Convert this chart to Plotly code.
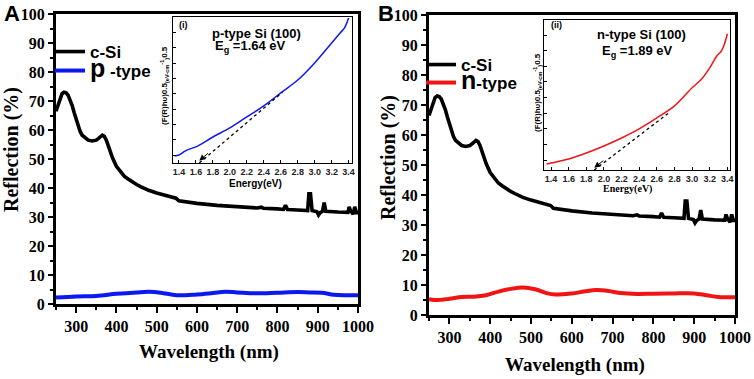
import plotly.graph_objects as go

W, H = 754, 379

# ---------------- data ----------------
wl_csi = [250, 255, 260, 265, 270, 275, 280, 285, 290, 295, 300, 305, 310, 315, 320, 330, 340, 350,
          355, 360, 365, 370, 375, 380, 390, 400, 410, 420, 430, 440, 450, 460, 480, 500, 520, 540,
          548, 555, 570, 600, 650, 700, 750, 760, 765, 800, 815, 820, 825, 850, 875, 878, 882, 886,
          890, 898, 902, 906, 912, 916, 920, 930, 950, 975, 978, 982, 988, 992, 996, 1000]
r_csi = [66.5, 68.5, 71, 72.5, 73, 72.8, 72, 70.5, 68.5, 66, 63.5, 61, 59.5, 58.2, 57.5, 56.5, 56.2, 56.5,
         57, 57.8, 58.2, 57.8, 56.5, 54.5, 50.5, 47.5, 45.5, 44, 43, 42, 41.2, 40.5, 39.2, 38.3, 37.5, 36.8,
         36.5, 35.6, 35.2, 34.7, 34, 33.5, 33.1, 33.4, 33, 32.8, 32.6, 34, 32.6, 32.4, 32.2, 38, 38, 32.2,
         32, 31.8, 30.7, 31.5, 32, 35, 32, 31.8, 31.7, 31.6, 33.5, 32, 31, 33.5, 31.5, 31.5]

wl_p = [250, 300, 350, 400, 450, 480, 510, 550, 600, 640, 670, 700, 750, 800, 850, 880, 910, 940, 970, 1000]
r_p = [2.2, 2.6, 2.8, 3.5, 4.0, 4.2, 3.9, 3.0, 3.3, 3.8, 4.2, 4.0, 3.7, 3.9, 4.1, 4.0, 3.9, 3.2, 3.0, 3.0]

wl_n = [250, 270, 300, 330, 360, 390, 420, 450, 480, 510, 540, 560, 600, 630, 660, 690, 720, 760,
        800, 850, 900, 930, 960, 1000]
r_n = [5.3, 5.0, 5.4, 6.0, 6.1, 6.6, 7.8, 8.7, 9.2, 8.6, 7.2, 6.8, 7.2, 7.8, 8.3, 8.0, 7.3, 7.0,
       7.1, 7.2, 7.2, 6.6, 6.0, 5.9]

# Tauc plots (arbitrary units)
e_p = [1.35, 1.4, 1.45, 1.5, 1.6, 1.8, 2.0, 2.2, 2.4, 2.6, 2.8, 3.0, 3.2, 3.3, 3.35, 3.4]
t_p = [0.46, 0.52, 0.70, 0.86, 1.05, 1.70, 2.29, 3.01, 3.73, 4.58, 5.42, 6.54, 7.84, 8.50, 8.82, 9.48]
tan_p_x = [1.64, 2.62]
tan_p_y = [0.0, 4.62]

e_n = [1.35, 1.4, 1.6, 1.8, 2.0, 2.2, 2.4, 2.6, 2.8, 3.0, 3.1, 3.2, 3.28, 3.33, 3.36, 3.4]
t_n = [0.38, 0.45, 0.71, 1.09, 1.54, 2.05, 2.63, 3.33, 4.10, 5.26, 5.77, 6.54, 7.30, 7.60, 7.95, 8.72]
tan_n_x = [1.89, 2.75]
tan_n_y = [0.0, 3.72]

x_ticks_main = [300, 400, 500, 600, 700, 800, 900, 1000]
y_ticks_main = [0, 10, 20, 30, 40, 50, 60, 70, 80, 90, 100]


def px(x):
    return x / W


def py(y):
    return 1 - y / H


SERIF = "Liberation Serif"
SANS = "Liberation Sans"
BLUE = "rgb(12,24,240)"
RED = "rgb(240,20,20)"

fig = go.Figure()

# Panel A
fig.add_trace(go.Scatter(x=wl_csi, y=r_csi, mode="lines", name="<b>c-Si</b>", xaxis="x", yaxis="y",
                         line=dict(color="black", width=3.6), legend="legend"))
fig.add_trace(go.Scatter(x=wl_p, y=r_p, mode="lines", line_shape="spline",
                         name="<b><span style='font-size:25px'>p</span> -type</b>", xaxis="x", yaxis="y",
                         line=dict(color=BLUE, width=4), legend="legend3"))
# Inset A
fig.add_trace(go.Scatter(x=e_p, y=t_p, mode="lines", line_shape="spline", xaxis="x3", yaxis="y3",
                         line=dict(color=BLUE, width=1.5), showlegend=False))
fig.add_trace(go.Scatter(x=tan_p_x, y=tan_p_y, mode="lines", xaxis="x3", yaxis="y3",
                         line=dict(color="black", width=1.3, dash="dot"), showlegend=False))

# Panel B
fig.add_trace(go.Scatter(x=wl_csi, y=r_csi, mode="lines", name="<b>c-Si</b>", xaxis="x2", yaxis="y2",
                         line=dict(color="black", width=3.6), legend="legend2"))
fig.add_trace(go.Scatter(x=wl_n, y=r_n, mode="lines", line_shape="spline",
                         name="<b><span style='font-size:25px'>n</span>-type</b>", xaxis="x2", yaxis="y2",
                         line=dict(color=RED, width=4), legend="legend4"))
# Inset B
fig.add_trace(go.Scatter(x=e_n, y=t_n, mode="lines", line_shape="spline", xaxis="x4", yaxis="y4",
                         line=dict(color=RED, width=1.5), showlegend=False))
fig.add_trace(go.Scatter(x=tan_n_x, y=tan_n_y, mode="lines", xaxis="x4", yaxis="y4",
                         line=dict(color="black", width=1.3, dash="dot"), showlegend=False))

main_x = dict(range=[250, 1000], tickvals=x_ticks_main, ticks="outside", ticklen=6, tickwidth=2,
              minor=dict(dtick=50, ticks="outside", ticklen=3, tickwidth=2, tickcolor="black"),
              showline=True, linewidth=3, linecolor="black", mirror=True, showgrid=False,
              zeroline=False, tickcolor="black", automargin=False, ticklabeloverflow="allow",
              tickfont=dict(family=SERIF, size=16, color="black", weight="bold"))
main_y = dict(range=[0, 100], tickvals=y_ticks_main, ticks="outside", ticklen=5, tickwidth=2,
              minor=dict(dtick=5, ticks="outside", ticklen=3, tickwidth=2, tickcolor="black"),
              showline=True, linewidth=3, linecolor="black", mirror=True, showgrid=False,
              zeroline=False, tickcolor="black", automargin=False, ticklabeloverflow="allow",
              tickfont=dict(family=SERIF, size=16, color="black", weight="bold"))


def inset_x(rng, dom, anchor):
    return dict(domain=dom, anchor=anchor, range=rng, dtick=0.2, tick0=1.4, tickformat=".1f",
                ticks="inside", ticklen=3, tickwidth=1, tickcolor="black", automargin=False,
                showline=True, linewidth=1.2, linecolor="black", mirror=True, showgrid=False,
                zeroline=False, tickfont=dict(family=SANS, size=9, color="#222", weight="bold"))


def inset_y(rng, dom, anchor, t0):
    return dict(domain=dom, anchor=anchor, range=rng, tickvals=[t0 + k for k in range(9)],
                showticklabels=False, ticks="inside", ticklen=3, tickwidth=1, tickcolor="black",
                showline=True, linewidth=1.2, linecolor="black", mirror=True, showgrid=False,
                zeroline=False, automargin=False)


def leg(x, y):
    return dict(x=px(x), y=py(y), xanchor="left", yanchor="middle", bgcolor="rgba(0,0,0,0)",
                font=dict(family=SANS, size=17, color="black"), itemwidth=30)


fig.update_layout(
    width=W, height=H, margin=dict(l=0, r=0, t=0, b=0, autoexpand=False),
    paper_bgcolor="white", plot_bgcolor="white",
    xaxis=dict(main_x, domain=[px(56), px(358)], anchor="y"),
    yaxis=dict(main_y, domain=[py(304), py(14)], anchor="x"),
    xaxis2=dict(main_x, domain=[px(429), px(735)], anchor="y2"),
    yaxis2=dict(main_y, domain=[py(315), py(15)], anchor="x2"),
    xaxis3=inset_x([1.33, 3.44], [px(173), px(352)], "y3"),
    yaxis3=inset_y([0, 9.54], [py(163), py(17)], "x3", 0.52),
    xaxis4=inset_x([1.32, 3.43], [px(544), px(730)], "y4"),
    yaxis4=inset_y([0, 9.6], [py(170), py(20)], "x4", 0.64),
    legend=leg(50, 52),
    legend3=leg(50, 71),
    legend2=leg(421, 65),
    legend4=leg(421, 83),
    showlegend=True,
)


def ann(text, x, y, size, family=SANS, angle=0, color="black"):
    fig.add_annotation(text="<b>" + text + "</b>", x=px(x), y=py(y), xref="paper", yref="paper",
                       showarrow=False, xanchor="center", yanchor="middle", textangle=angle,
                       font=dict(family=family, size=size, color=color))


ann("A", 12, 14, 22)
ann("B", 386, 14, 22)
ann("Reflection (%)", 11, 150, 20, SERIF, -90)
ann("Reflection (%)", 389, 157, 20, SERIF, -90)
ann("Wavelength (nm)", 209, 352, 19, SERIF)
ann("Wavelength (nm)", 575, 365, 19, SERIF)

# inset texts
ann("(i)", 183, 25, 9)
ann("p-type Si (100)", 256, 33, 13)
ann("E<sub>g</sub> =1.64 eV", 251, 47, 13)
ann("(F(R)hυ)0.5<sub>(eV-cm</sub><sup>-1</sup><sub>)</sub>0.5", 165, 86, 8, SANS, -90)
ann("Energy(eV)", 255, 183, 10)

ann("(ii)", 556, 25, 9)
ann("n-type Si (100)", 641, 35, 13)
ann("E<sub>g</sub> =1.89 eV", 637, 52, 13)
ann("(F(R)hυ)0.5<sub>(eV-cm</sub><sup>-1</sup><sub>)</sub>0.5", 537, 93, 8, SANS, -90)
ann("Energy(eV)", 627, 189, 10, SERIF)

# arrow heads on tangent lines
for xs, ys, xa, ya in [(tan_p_x, tan_p_y, "x3", "y3"), (tan_n_x, tan_n_y, "x4", "y4")]:
    slope = (ys[1] - ys[0]) / (xs[1] - xs[0])
    fig.add_annotation(x=xs[0], y=ys[0] + 0.15, xref=xa, yref=ya,
                       ax=xs[0] + 0.12, ay=ys[0] + 0.15 + slope * 0.12, axref=xa, ayref=ya,
                       showarrow=True, arrowhead=2, arrowsize=1.2, arrowwidth=1, arrowcolor="black",
                       text="")

# remove the default 8px page margin so the figure fills the window exactly
fig.write_html("out.html", config={"displayModeBar": False},
               post_script="document.body.style.margin='0';document.body.style.overflow='hidden';")
